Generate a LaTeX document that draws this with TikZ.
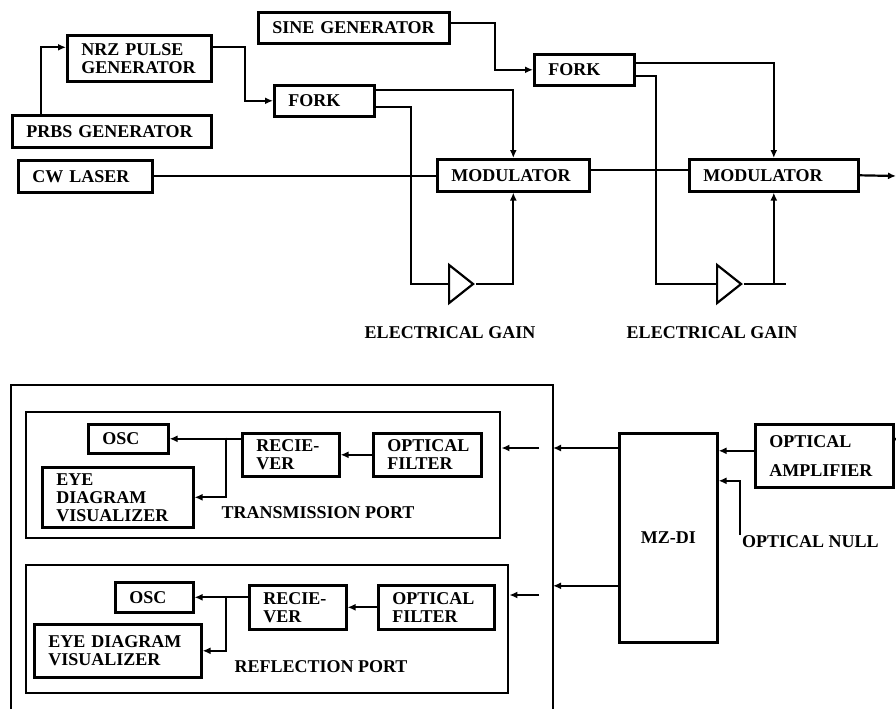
\documentclass[tikz,border=0pt]{standalone}
\usepackage{fontspec}
\setmainfont{Liberation Serif}
\usetikzlibrary{arrows.meta,shapes.geometric,positioning}

\begin{document}
\begin{tikzpicture}[x=1pt, y=-1pt,
        font=\bfseries\fontsize{18}{18}\selectfont,
        block/.style 2 args={rectangle, draw, line width=2.6pt, anchor=north west, inner xsep=14pt, inner ysep=0pt, align=left, text width=#1, minimum height=#2},
        frame/.style 2 args={rectangle, draw, line width=2.4pt, anchor=north west, inner sep=0pt, minimum width=#1, minimum height=#2},
        amp/.style={isosceles triangle, isosceles triangle stretches, shape border rotate=0, draw, line width=2.2pt, inner sep=0pt, minimum width=38pt, minimum height=24pt, anchor=west},
        caption/.style={inner sep=0pt},
        wire/.style={line width=2.2pt},
        paths/.style={wire, -{Latex[length=8pt,width=7pt]}}
    ]
        \useasboundingbox (0,0) rectangle (896,709);

        % Nodes: transmitter
        \node[block={163pt}{31pt}] (sine) at (257,11) {SINE~GENERATOR};
        \node[block={116pt}{46pt}] (nrz) at (66,34) {NRZ~PULSE\\GENERATOR};
        \node[block={171pt}{32pt}] (prbs) at (11,114) {PRBS~GENERATOR};
        \node[block={72pt}{31pt}] (fork1) at (273,84) {FORK};
        \node[block={106pt}{32pt}] (cw) at (17,159) {CW~LASER};
        \node[block={124pt}{32pt}] (mod1) at (436,158) {MODULATOR};
        \node[block={72pt}{31pt}] (fork2) at (533,53) {FORK};
        \node[block={141pt}{32pt}] (mod2) at (688,158) {MODULATOR};
        \node[amp] (amp1) at (448,284) {};
        \node[amp] (amp2) at (716,284) {};
        \node[caption] (gain1) at (450,333) {ELECTRICAL~GAIN};
        \node[caption] (gain2) at (712,333) {ELECTRICAL~GAIN};
        \coordinate (outR) at (896,176);

        % Paths: transmitter
        \draw[paths] ([xshift=30pt]prbs.north west) |- ([yshift=11pt]nrz.west);
        \draw[paths] ([yshift=11pt]nrz.east) -- ++(32,0) |- (fork1.west);
        \draw[paths] ([yshift=5pt]sine.east) -- ++(44,0) |- (fork2.west);
        \draw[paths] ([yshift=11pt]fork1.east) -| (mod1.north);
        \draw[wire] ([yshift=-6pt]fork1.east) -- ++(35,0) |- (amp1.west);
        \draw[paths] (amp1.east) -| (mod1.south);
        \draw[wire] (cw.east) -- (cw.east -| mod1.west);
        \draw[wire] ([yshift=5pt]mod1.east) -- ([yshift=5pt]mod2.west);
        \draw[paths] ([yshift=7pt]fork2.east) -| (mod2.north);
        \draw[wire] ([yshift=-6pt]fork2.east) -- ++(20,0) |- (amp2.west);
        \draw[wire] (amp2.east) -- ++(42,0);
        \draw[paths] (amp2.east -| mod2.south) -- (mod2.south);
        \draw[paths] (mod2.east) -- (outR);

        % Nodes: receiver
        \coordinate (rxleft) at (11,385);
        \coordinate (rxtop) at (553,385);
        \draw[line width=2.6pt] (11,709) -- (rxleft) -- (rxtop) -- (553,709);

        \node[frame={474pt}{126pt}] (trans) at (25,411) {};
        \node[frame={482pt}{128pt}] (refl) at (25,564) {};

        \node[block={52pt}{29pt}] (osc1) at (87,423) {OSC};
        \node[block={123pt}{60pt}] (eye1) at (41,466) {EYE\\DIAGRAM\\VISUALIZER};
        \node[block={69pt}{43pt}] (recv1) at (241,432) {RECIE-\\VER};
        \node[block={80pt}{43pt}] (filt1) at (372,432) {OPTICAL\\FILTER};
        \node[caption] (tlbl) at (318,513) {TRANSMISSION~PORT};

        \node[block={50pt}{30pt}] (osc2) at (114,581) {OSC};
        \node[block={139pt}{53pt}] (eye2) at (33,623) {EYE~DIAGRAM\\VISUALIZER};
        \node[block={69pt}{44pt}] (recv2) at (248,584) {RECIE-\\VER};
        \node[block={88pt}{44pt}] (filt2) at (377,584) {OPTICAL\\FILTER};
        \node[caption] (rlbl) at (321,667) {REFLECTION~PORT};

        \node[block={70pt}{209pt}, align=center] (mzdi) at (618,432) {\mbox{MZ-DI}};
        \node[block={110pt}{63pt}] (oamp) at (754,423) {OPTICAL\\[11pt]AMPLIFIER};
        \node[caption, anchor=west] (nulllbl) at (742,542) {OPTICAL~NULL};

        \coordinate (br1) at (226,437.5);
        \coordinate (br2) at (226,596);
        \coordinate (tin) at (539,448);
        \coordinate (rin) at (539,595);
        \coordinate (nullpt) at (740,535);
        \coordinate (edgeA) at (896,438.5);

        % Paths: transmission port
        \draw[paths] (filt1.west) -- (recv1.east);
        \draw[paths] (recv1.west |- osc1) -- (osc1.east);
        \draw[paths] (br1) |- (eye1.east);
        \draw[paths] (tin) -- (tin -| trans.east);

        % Paths: reflection port
        \draw[paths] (filt2.west) -- (recv2.east);
        \draw[paths] (recv2.west |- osc2) -- (osc2.east);
        \draw[paths] (br2) |- (eye2.east);
        \draw[paths] (rin) -- (rin -| refl.east);

        % Paths: interferometer
        \draw[paths] (mzdi.west |- tin) -- (tin -| rxtop);
        \draw[paths] ([yshift=-48pt]mzdi.west) -- ([yshift=-48pt]mzdi.west -| rxtop);
        \draw[paths] ([yshift=5pt]oamp.west) -- ([yshift=5pt]oamp.west -| mzdi.east);
        \draw[paths] (nullpt) |- ([yshift=57pt]mzdi.east);
        \draw[wire] ([yshift=16pt]oamp.east) -- (edgeA);
\end{tikzpicture}
\end{document}
